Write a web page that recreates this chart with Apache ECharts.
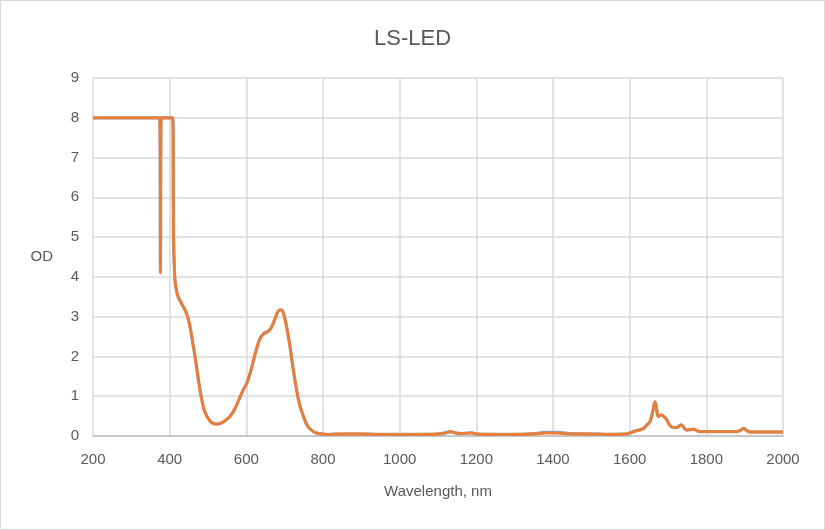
<!DOCTYPE html>
<html lang="en">

<head>
    <meta charset="UTF-8">
    <title>LS-LED</title>
    <script src="https://cdn.jsdelivr.net/npm/echarts@6/dist/echarts.min.js"></script>
</head>
<style>
    body {
        margin: 0;
        background: #fff;
    }

    #chart {
        width: 823px;
        height: 528px;
        border: 1px solid #d9d9d9;
    }
</style>

<body>
    <div id="chart"></div>
    <script>
        // wavelength in nm
        var wavelength = [200, 300, 370, 374, 376, 378, 405, 408, 410, 412, 414, 418, 422, 430, 444, 452, 462, 470, 475, 483,
            492, 505, 515, 523, 535, 545, 557, 570, 580, 592, 600, 610, 620, 630, 636, 645, 657, 665, 675, 682,
            688, 693, 698, 705, 714, 722, 731, 740, 749, 760, 775, 790, 810, 850, 900, 950, 1000, 1050, 1100, 1120,
            1131, 1145, 1160, 1175, 1188, 1200, 1250, 1300, 1350, 1380, 1410, 1450, 1500, 1550, 1590, 1610, 1636, 1645, 1653, 1660,
            1666, 1670, 1675, 1683, 1690, 1696, 1709, 1722, 1734, 1749, 1766, 1783, 1827, 1879, 1890, 1897, 1905, 1914, 1950, 2000];

        var odOrange = [8, 8, 8, 8, 4.1, 8, 8, 8, 5.0, 4.3, 3.9, 3.65, 3.5, 3.35, 3.08, 2.8, 2.24, 1.75, 1.41, 0.95,
            0.6, 0.38, 0.31, 0.30, 0.33, 0.39, 0.49, 0.68, 0.9, 1.16, 1.3, 1.58, 1.95, 2.3, 2.45, 2.56, 2.62, 2.72, 2.95, 3.12,
            3.17, 3.16, 3.05, 2.75, 2.24, 1.7, 1.16, 0.75, 0.49, 0.25, 0.11, 0.06, 0.04, 0.05, 0.05, 0.04, 0.04, 0.04, 0.05, 0.08,
            0.11, 0.08, 0.06, 0.07, 0.08, 0.05, 0.04, 0.04, 0.05, 0.07, 0.07, 0.05, 0.05, 0.04, 0.05, 0.11, 0.19, 0.28, 0.36, 0.6,
            0.86, 0.7, 0.49, 0.53, 0.48, 0.42, 0.23, 0.21, 0.28, 0.15, 0.17, 0.11, 0.11, 0.11, 0.15, 0.19, 0.14, 0.10, 0.10, 0.10];

        var odBlue = [8, 8, 8, 8, 4.1, 8, 8, 8, 5.0, 4.3, 3.9, 3.65, 3.5, 3.35, 3.08, 2.8, 2.24, 1.75, 1.41, 0.95,
            0.6, 0.38, 0.31, 0.30, 0.33, 0.39, 0.49, 0.68, 0.9, 1.16, 1.3, 1.58, 1.95, 2.3, 2.45, 2.58, 2.64, 2.72, 2.95, 3.12,
            3.17, 3.16, 3.05, 2.75, 2.24, 1.7, 1.16, 0.75, 0.49, 0.25, 0.11, 0.06, 0.04, 0.05, 0.05, 0.04, 0.04, 0.04, 0.05, 0.08,
            0.11, 0.08, 0.06, 0.07, 0.08, 0.05, 0.04, 0.04, 0.06, 0.09, 0.09, 0.06, 0.05, 0.04, 0.05, 0.11, 0.19, 0.28, 0.36, 0.6,
            0.86, 0.7, 0.49, 0.53, 0.48, 0.42, 0.23, 0.21, 0.28, 0.15, 0.17, 0.11, 0.11, 0.11, 0.15, 0.19, 0.14, 0.10, 0.10, 0.10];

        function pairs(ys) {
            return wavelength.map(function (x, i) { return [x, ys[i]]; });
        }

        var txt = '#595959';
        var chart = echarts.init(document.getElementById('chart'));
        var option = {
            animation: false,
            title: {
                text: 'LS-LED',
                left: 'center',
                top: 22,
                textStyle: { fontFamily: 'Liberation Sans', fontSize: 22, fontWeight: 'normal', color: txt }
            },
            grid: { left: 92, right: 41, top: 77, bottom: 93 },
            xAxis: {
                type: 'value',
                min: 200,
                max: 2000,
                interval: 200,
                name: 'Wavelength, nm',
                nameLocation: 'middle',
                nameGap: 48,
                nameTextStyle: { fontFamily: 'Liberation Sans', fontSize: 15, color: txt },
                axisLine: { lineStyle: { color: '#bfbfbf', width: 1.5 } },
                axisTick: { show: false },
                axisLabel: {
                    fontFamily: 'Liberation Sans', fontSize: 15, color: txt, margin: 16,
                    formatter: function (v) { return String(v); }
                },
                splitLine: { show: true, lineStyle: { color: '#d9d9d9', width: 1.5 } }
            },
            yAxis: {
                type: 'value',
                min: 0,
                max: 9,
                interval: 1,
                name: 'OD',
                nameLocation: 'middle',
                nameRotate: 0,
                nameGap: 40,
                nameTextStyle: { fontFamily: 'Liberation Sans', fontSize: 15, color: txt },
                axisLine: { show: false },
                axisTick: { show: false },
                axisLabel: { fontFamily: 'Liberation Sans', fontSize: 15, color: txt, margin: 14 },
                splitLine: { lineStyle: { color: '#d9d9d9', width: 1.5 } }
            },
            series: [
                {
                    name: 'blue',
                    type: 'line',
                    smooth: 0.4,
                    showSymbol: false,
                    lineStyle: { color: '#8ea2c8', width: 3.2 },
                    data: pairs(odBlue)
                },
                {
                    name: 'orange',
                    type: 'line',
                    smooth: 0.4,
                    showSymbol: false,
                    lineStyle: { color: '#ed7d31', width: 2.8 },
                    data: pairs(odOrange)
                }
            ]
        };
        chart.setOption(option);
    </script>
</body>
</html>
